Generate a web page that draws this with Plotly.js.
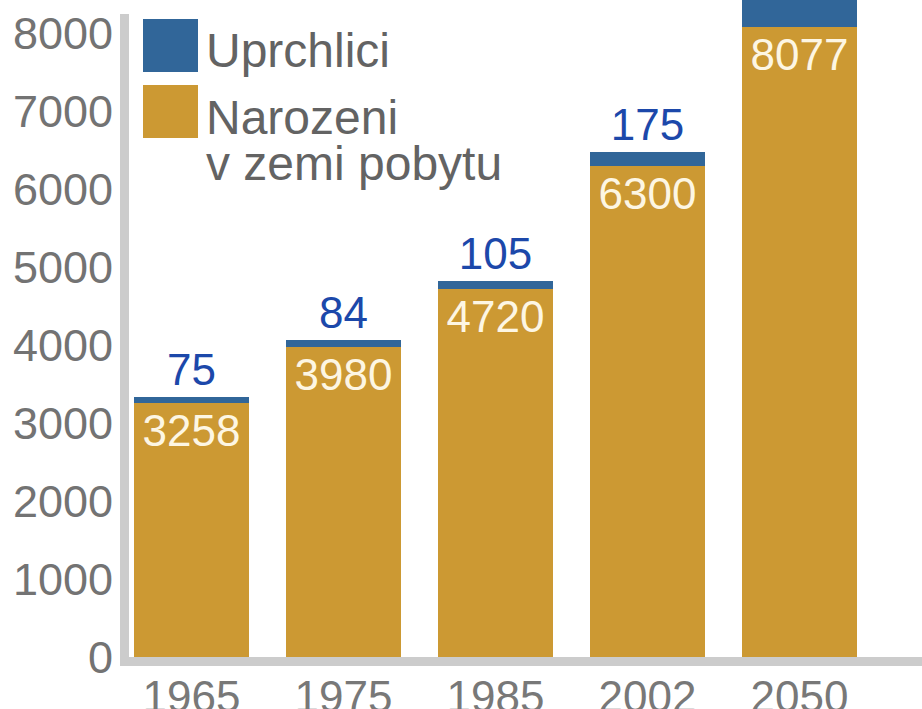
<!DOCTYPE html>
<html>
<head>
<meta charset="utf-8">
<script src="https://cdn.plot.ly/plotly-3.0.1.min.js"></script>
<style>
  html, body { margin: 0; padding: 0; background: #ffffff; }
  #chart { width: 922px; height: 709px; }
</style>
</head>
<body>
<div id="chart"></div>
<script>
// ---- data ----
var years = ['1965', '1975', '1985', '2002', '2050'];
var narozeni = [3258, 3980, 4720, 6300, 8077];      // Narozeni v zemi pobytu
var uprchlici = [75, 84, 105, 175, 350];            // Uprchlici (2050 value cut off at top, estimated)
var uprchliciLabels = ['75', '84', '105', '175', ''];
var narozeniLabels = ['3258', '3980', '4720', '6300', '8077'];
var yTickValues = [0, 1000, 2000, 3000, 4000, 5000, 6000, 7000, 8000];
var legendNames = ['Uprchlici', 'Narozeni', 'v zemi pobytu'];

// ---- layout helpers ----
var W = 922, H = 709;
var M = {l: 129, r: 0, t: 0, b: 52};
var plotW = W - M.l - M.r, plotH = H - M.t - M.b;
function px(x) { return (x - M.l) / plotW; }
function py(y) { return (H - M.b - y) / plotH; }

var FONT = 'Liberation Sans, Arial, Helvetica, sans-serif';
var GOLD = '#cc9933', BLUE = '#316699', GRAY_LINE = '#cccccc';

var traces = [
  {
    type: 'bar', name: legendNames[1] + ' ' + legendNames[2],
    x: years, y: narozeni,
    marker: {color: GOLD, line: {width: 0}},
    text: narozeniLabels, textposition: 'inside', insidetextanchor: 'end',
    textangle: 0,
    insidetextfont: {family: FONT, size: 44, color: '#fdf6e3'},
    hoverinfo: 'x+y'
  },
  {
    type: 'bar', name: legendNames[0],
    x: years, y: uprchlici,
    marker: {color: BLUE, line: {width: 0}},
    text: uprchliciLabels, textposition: 'outside',
    textangle: 0,
    outsidetextfont: {family: FONT, size: 44, color: '#1c48aa'},
    cliponaxis: false,
    hoverinfo: 'x+y'
  }
];

var layout = {
  width: W, height: H,
  margin: M,
  paper_bgcolor: '#ffffff', plot_bgcolor: '#ffffff',
  barmode: 'stack',
  bargap: 0.243,
  showlegend: false,
  font: {family: FONT, color: '#727272'},
  xaxis: {
    type: 'category',
    range: [-0.411, 4.806],
    showline: true, linewidth: 9, linecolor: GRAY_LINE,
    showgrid: false, zeroline: false, ticks: '',
    tickfont: {family: FONT, size: 44, color: '#787878'},
    ticklabelstandoff: -7,
    fixedrange: true
  },
  yaxis: {
    range: [0, 8423],
    tickvals: yTickValues,
    ticktext: yTickValues.map(String),
    showline: false, showgrid: false, zeroline: false, ticks: '',
    tickfont: {family: FONT, size: 45, color: '#737373'},
    ticklabelstandoff: 15,
    fixedrange: true
  },
  shapes: [
    // y axis line
    {type: 'line', xref: 'paper', yref: 'paper',
     x0: px(124.5), x1: px(124.5), y0: py(666), y1: py(14),
     line: {color: GRAY_LINE, width: 9}},
    // legend swatches
    {type: 'rect', xref: 'paper', yref: 'paper',
     x0: px(143), x1: px(198), y0: py(72), y1: py(19),
     fillcolor: BLUE, line: {width: 0}},
    {type: 'rect', xref: 'paper', yref: 'paper',
     x0: px(143), x1: px(198), y0: py(138), y1: py(85),
     fillcolor: GOLD, line: {width: 0}}
  ],
  annotations: [
    {xref: 'paper', yref: 'paper', x: px(204), y: py(50), xanchor: 'left', yanchor: 'middle',
     text: legendNames[0], showarrow: false, font: {family: FONT, size: 48, color: '#636363'}},
    {xref: 'paper', yref: 'paper', x: px(204), y: py(117), xanchor: 'left', yanchor: 'middle',
     text: legendNames[1], showarrow: false, font: {family: FONT, size: 48, color: '#636363'}},
    {xref: 'paper', yref: 'paper', x: px(204), y: py(163), xanchor: 'left', yanchor: 'middle',
     text: legendNames[2], showarrow: false, font: {family: FONT, size: 48, color: '#636363'}}
  ]
};

Plotly.newPlot('chart', traces, layout, {displayModeBar: false, staticPlot: true});
</script>
</body>
</html>
